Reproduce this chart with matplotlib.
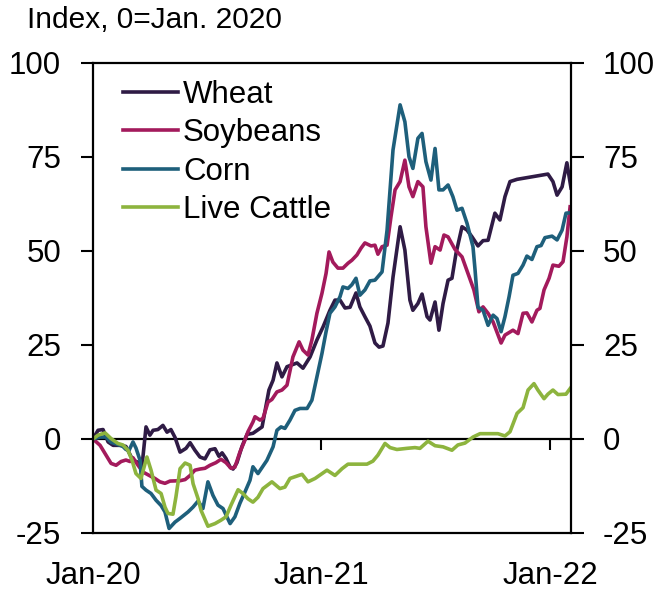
import matplotlib
matplotlib.use("Agg")
import matplotlib.pyplot as plt
import numpy as np

plt.rcParams['font.family'] = ['Liberation Sans', 'DejaVu Sans']

# time in years since 1 Jan 2020
wheat_t = [0.000, 0.022, 0.044, 0.066, 0.088, 0.123, 0.144, 0.175, 0.206, 0.214, 0.232, 0.249, 0.263, 0.284,
           0.306, 0.324, 0.341, 0.359, 0.381, 0.407, 0.425, 0.446, 0.468, 0.490, 0.512, 0.534, 0.551, 0.565,
           0.582, 0.600, 0.613, 0.630, 0.652, 0.674, 0.700, 0.740, 0.770, 0.788, 0.805, 0.827, 0.849, 0.893,
           0.919, 0.950, 0.980, 1.007, 1.037, 1.059, 1.081, 1.103, 1.125, 1.151, 1.168, 1.190, 1.212, 1.234,
           1.252, 1.269, 1.291, 1.313, 1.344, 1.365, 1.387, 1.400, 1.422, 1.440, 1.462, 1.475, 1.497, 1.514,
           1.532, 1.554, 1.571, 1.589, 1.615, 1.637, 1.659, 1.685, 1.707, 1.729, 1.759, 1.781, 1.803, 1.825,
           1.856, 1.991, 2.013, 2.031, 2.053, 2.074, 2.092]
wheat_v = [0, 2.3, 2.5, -0.8, -1.7, -1.7, -2.0, -5.7, -6.4, -7.5, 3.2, 1.0, 2.3, 2.5,
           3.6, 1.8, 2.5, 0.4, -3.5, -2.5, -1.0, -3.0, -4.8, -5.3, -2.9, -2.6, -4.6, -3.7,
           -5.2, -7.5, -8.0, -6.3, -2.0, 1.2, 1.5, 3.2, 13.0, 15.6, 20.2, 16.5, 19.2, 20.2,
           18.8, 21.8, 26.3, 29.8, 34.2, 36.9, 36.9, 34.8, 35.0, 38.8, 35.1, 32.5, 30.0, 25.5,
           24.4, 24.7, 30.8, 43.0, 56.4, 50.2, 36.9, 34.2, 36.0, 38.5, 32.5, 31.6, 36.4, 28.9,
           36.0, 42.2, 42.7, 49.4, 56.4, 55.5, 53.7, 51.3, 52.7, 52.8, 60.0, 58.2, 64.4, 68.4,
           69.0, 70.4, 68.4, 64.8, 67.0, 73.4, 66.7]

soy_t = [0.000, 0.031, 0.057, 0.079, 0.101, 0.123, 0.144, 0.162, 0.175, 0.197, 0.219, 0.249, 0.271, 0.293,
         0.315, 0.337, 0.381, 0.403, 0.425, 0.446, 0.468, 0.490, 0.512, 0.538, 0.560, 0.582, 0.604, 0.621,
         0.643, 0.665, 0.678, 0.700, 0.709, 0.731, 0.744, 0.766, 0.783, 0.805, 0.827, 0.849, 0.875, 0.902,
         0.919, 0.941, 0.958, 0.980, 1.002, 1.020, 1.033, 1.050, 1.072, 1.094, 1.116, 1.133, 1.155, 1.173,
         1.190, 1.217, 1.234, 1.247, 1.265, 1.287, 1.304, 1.322, 1.344, 1.365, 1.383, 1.400, 1.422, 1.444,
         1.457, 1.479, 1.497, 1.519, 1.536, 1.554, 1.584, 1.615, 1.641, 1.667, 1.689, 1.707, 1.729, 1.751,
         1.786, 1.803, 1.838, 1.860, 1.882, 1.899, 1.921, 1.943, 1.956, 1.974, 1.996, 2.013, 2.039, 2.057,
         2.074, 2.088]
soy_v = [0, -1.7, -4.3, -6.5, -7.0, -6.0, -5.6, -6.0, -5.0, -7.0, -8.8, -9.8, -10.5, -11.4,
         -11.8, -11.2, -11.1, -10.8, -9.7, -8.3, -8.0, -7.8, -7.0, -6.3, -5.4, -6.3, -7.8, -7.5,
         -3.5, -0.3, 1.9, 4.5, 5.9, 5.0, 5.5, 9.8, 10.5, 12.5, 13.0, 14.3, 21.8, 25.8,
         23.6, 22.3, 26.3, 33.4, 38.7, 44.0, 49.7, 47.0, 45.4, 45.4, 46.7, 47.5, 48.9, 50.7,
         52.1, 51.3, 51.5, 49.1, 51.1, 51.5, 59.0, 66.2, 68.4, 74.1, 67.0, 64.4, 68.4, 67.0,
         56.4, 46.7, 51.1, 50.2, 54.2, 53.7, 50.4, 48.4, 44.0, 39.6, 33.8, 35.1, 33.4, 31.1,
         25.5, 27.6, 28.9, 28.0, 33.4, 33.5, 31.1, 34.2, 34.7, 39.6, 42.7, 46.2, 45.9, 47.1,
         53.7, 61.7]

corn_t = [0.000, 0.031, 0.057, 0.079, 0.101, 0.131, 0.144, 0.158, 0.175, 0.188, 0.206, 0.214, 0.232, 0.254,
          0.276, 0.298, 0.315, 0.333, 0.359, 0.381, 0.416, 0.438, 0.460, 0.481, 0.503, 0.525, 0.547, 0.569,
          0.600, 0.621, 0.643, 0.665, 0.687, 0.700, 0.722, 0.761, 0.788, 0.805, 0.823, 0.840, 0.862, 0.884,
          0.906, 0.937, 0.958, 0.980, 1.002, 1.020, 1.037, 1.059, 1.081, 1.094, 1.116, 1.133, 1.151, 1.168,
          1.190, 1.212, 1.234, 1.265, 1.287, 1.313, 1.344, 1.365, 1.383, 1.400, 1.422, 1.440, 1.457, 1.479,
          1.497, 1.514, 1.532, 1.554, 1.575, 1.593, 1.615, 1.637, 1.663, 1.672, 1.685, 1.707, 1.729, 1.751,
          1.768, 1.786, 1.803, 1.821, 1.838, 1.860, 1.882, 1.899, 1.921, 1.943, 1.961, 1.978, 2.009, 2.031,
          2.053, 2.070, 2.088]
corn_v = [0, 0.5, 0.5, -0.9, -1.3, -2.0, -2.8, -3.0, -0.8, -2.4, -5.7, -12.6, -13.6, -14.5,
          -16.3, -17.7, -19.4, -23.8, -22.1, -21.1, -19.4, -18.1, -16.5, -18.5, -11.4, -15.0, -17.6, -18.5,
          -22.5, -20.7, -17.1, -14.1, -11.0, -7.4, -9.2, -5.7, -2.1, 2.3, 3.2, 2.8, 5.0, 7.6,
          8.1, 8.1, 10.3, 16.5, 22.7, 28.5, 33.4, 35.1, 37.8, 40.4, 40.0, 41.0, 42.7, 38.2,
          39.6, 42.0, 42.2, 44.4, 55.5, 76.8, 88.8, 84.3, 75.0, 71.9, 79.9, 81.2, 73.7, 68.8,
          77.2, 66.2, 66.2, 67.5, 64.4, 60.8, 61.3, 57.3, 51.1, 45.0, 35.0, 34.2, 30.2, 32.9,
          32.0, 28.5, 32.5, 37.8, 43.5, 44.0, 46.2, 48.6, 47.7, 51.1, 51.4, 53.5, 53.9, 52.9,
          55.5, 60.0, 60.1]

cattle_t = [0.000, 0.022, 0.053, 0.079, 0.109, 0.131, 0.153, 0.171, 0.188, 0.210, 0.228, 0.236, 0.254, 0.276,
            0.298, 0.315, 0.328, 0.350, 0.363, 0.381, 0.403, 0.425, 0.438, 0.460, 0.473, 0.503, 0.534, 0.560,
            0.582, 0.604, 0.635, 0.656, 0.678, 0.700, 0.722, 0.744, 0.783, 0.818, 0.840, 0.862, 0.915, 0.941,
            0.972, 1.024, 1.059, 1.090, 1.116, 1.199, 1.225, 1.247, 1.278, 1.300, 1.330, 1.374, 1.409, 1.431,
            1.466, 1.497, 1.532, 1.571, 1.597, 1.628, 1.663, 1.694, 1.772, 1.803, 1.825, 1.856, 1.882, 1.904,
            1.930, 1.947, 1.974, 1.991, 2.013, 2.035, 2.070, 2.092]
cattle_v = [0, 1.0, 1.6, 0.1, -1.2, -1.6, -3.0, -5.7, -9.2, -10.5, -6.5, -4.8, -8.3, -13.6,
            -14.5, -18.1, -19.8, -20.0, -15.4, -7.9, -6.4, -7.0, -11.9, -15.9, -19.0, -23.2, -22.5, -21.6,
            -20.7, -17.6, -13.5, -14.5, -15.9, -16.8, -15.5, -13.2, -11.4, -13.2, -12.8, -10.5, -9.4, -11.4,
            -10.5, -8.3, -9.7, -7.9, -6.7, -6.7, -5.9, -4.3, -1.2, -2.3, -2.8, -2.5, -2.3, -2.5,
            -0.6, -1.8, -2.1, -3.0, -1.6, -1.1, 0.5, 1.4, 1.4, 0.8, 1.9, 6.8, 8.3, 13.0,
            14.7, 13.0, 10.7, 11.9, 13.0, 11.8, 11.9, 13.7]

series = [("Wheat", wheat_t, wheat_v, "#2f1b45"),
          ("Soybeans", soy_t, soy_v, "#a31a5c"),
          ("Corn", corn_t, corn_v, "#1e5f7b"),
          ("Live Cattle", cattle_t, cattle_v, "#8db43e")]

x_ticks = [2020, 2021, 2022]
x_labels = ["Jan-20", "Jan-21", "Jan-22"]
y_ticks = [-25, 0, 25, 50, 75, 100]

FS = 22.5
fig = plt.figure(figsize=(6.66, 5.96), dpi=100)
ax = fig.add_axes([93 / 666, 1 - 533 / 596, 478 / 666, (533 - 62.7) / 596])

for name, t, v, c in series:
    ax.plot(2020 + np.array(t), v, color=c, lw=2.6, label=name, solid_joinstyle='round')

ax.set_xlim(2020.0, 2022.092)
ax.set_ylim(-25, 100)
ax.set_yticks(y_ticks)
ax.set_yticklabels([str(v) for v in y_ticks])
ax.set_xticks(x_ticks)
ax.set_xticklabels(x_labels)

for s in ax.spines.values():
    s.set_linewidth(1.6)
    s.set_color('black')

ax.tick_params(axis='y', which='both', direction='out', length=9, width=1.5,
               left=True, right=True, labelleft=True, labelright=True, labelsize=FS, pad=14)
ax.tick_params(axis='x', length=0, labelsize=FS, pad=20)

# zero line with ticks
try:
    sec = ax.secondary_xaxis(0, transform=ax.transData)
    sec.set_xticks(x_ticks[1:])
    sec.tick_params(axis='x', direction='out', length=8, width=1.5, labelbottom=False)
    sec.spines['bottom'].set_linewidth(1.6)
except Exception:
    ax.axhline(0, color='black', lw=1.6)

leg = ax.legend(loc='upper left', bbox_to_anchor=(0.063, 0.964), frameon=False, fontsize=FS,
                handlelength=1.75, handletextpad=0.17, labelspacing=0.27, borderaxespad=0, borderpad=0)

fig.text(27 / 666, 1 - 6 / 596, "Index, 0=Jan. 2020", fontsize=21.5, ha='left', va='top')

fig.savefig("out.png", dpi=100)
